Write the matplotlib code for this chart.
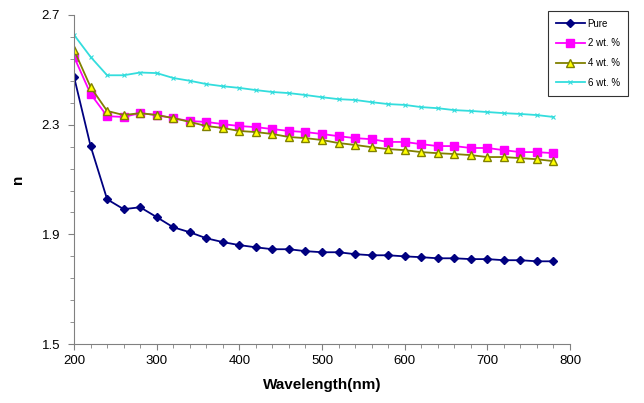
import matplotlib.pyplot as plt
from matplotlib.ticker import MultipleLocator

plt.rcParams["font.family"] = ["Liberation Sans", "DejaVu Sans"]

wavelength = list(range(200, 800, 20))

n_pure = [2.474, 2.222, 2.028, 1.992, 1.999, 1.963, 1.926, 1.908, 1.886, 1.872,
          1.861, 1.853, 1.846, 1.846, 1.839, 1.835, 1.835, 1.828, 1.824, 1.824,
          1.820, 1.817, 1.813, 1.813, 1.810, 1.810, 1.806, 1.806, 1.802, 1.802]
n_2wt = [2.547, 2.412, 2.331, 2.328, 2.342, 2.335, 2.324, 2.313, 2.310, 2.302,
         2.295, 2.291, 2.284, 2.277, 2.273, 2.266, 2.258, 2.251, 2.247, 2.237,
         2.237, 2.229, 2.222, 2.222, 2.215, 2.215, 2.207, 2.200, 2.200, 2.196]
n_4wt = [2.572, 2.437, 2.350, 2.335, 2.342, 2.335, 2.324, 2.310, 2.295, 2.288,
         2.277, 2.273, 2.266, 2.255, 2.251, 2.244, 2.233, 2.226, 2.218, 2.211,
         2.207, 2.200, 2.196, 2.193, 2.189, 2.182, 2.182, 2.178, 2.174, 2.167]
n_6wt = [2.627, 2.547, 2.480, 2.480, 2.490, 2.488, 2.470, 2.460, 2.448, 2.440,
         2.434, 2.426, 2.419, 2.415, 2.408, 2.400, 2.393, 2.390, 2.382, 2.375,
         2.372, 2.364, 2.360, 2.353, 2.350, 2.346, 2.342, 2.339, 2.335, 2.328]

y_major = [1.5, 1.9, 2.3, 2.7]
y_minor = [1.5 + 0.08 * i for i in range(16)]

fig = plt.figure(figsize=(6.44, 4.03), dpi=100)
ax = fig.add_axes([0.115, 0.146, 0.77, 0.817])

ax.plot(wavelength, n_pure, color="#000080", marker="D", markersize=4.5,
        linewidth=1.3, label="Pure")
ax.plot(wavelength, n_2wt, color="#FF00FF", marker="s", markersize=5.5,
        linewidth=1.3, label="2 wt. %")
ax.plot(wavelength, n_4wt, color="#808000", marker="^", markersize=5.5,
        markerfacecolor="#FFFF00", markeredgecolor="#808000",
        linewidth=1.3, label="4 wt. %")
ax.plot(wavelength, n_6wt, color="#33DDDD", marker="x", markersize=3,
        markeredgewidth=0.8, linewidth=1.3, label="6 wt. %")

ax.set_xlim(200, 800)
ax.set_ylim(1.5, 2.7)
ax.xaxis.set_major_locator(MultipleLocator(100))
ax.xaxis.set_minor_locator(MultipleLocator(20))
ax.set_yticks(y_major)
ax.set_yticks(y_minor, minor=True)
ax.set_yticklabels([f"{v:.1f}" for v in y_major])

for side in ("top", "right"):
    ax.spines[side].set_visible(False)
for side in ("left", "bottom"):
    ax.spines[side].set_color("#808080")
ax.tick_params(which="both", direction="out", color="#808080", labelsize=9.5)
ax.tick_params(which="major", length=4)
ax.tick_params(which="minor", length=3)
ax.tick_params(axis="y", pad=6)

ax.set_xlabel("Wavelength(nm)", fontsize=11, fontweight="bold", labelpad=8)
ax.set_ylabel("n", fontsize=11, fontweight="bold", labelpad=12)

leg = ax.legend(loc="upper right", bbox_to_anchor=(0.982, 0.985),
                bbox_transform=fig.transFigure, fontsize=7, fancybox=False,
                edgecolor="black", handlelength=3, labelspacing=1.0,
                borderpad=0.8, handletextpad=0.3)
leg.get_frame().set_linewidth(0.8)

fig.savefig("out.png", dpi=100)
